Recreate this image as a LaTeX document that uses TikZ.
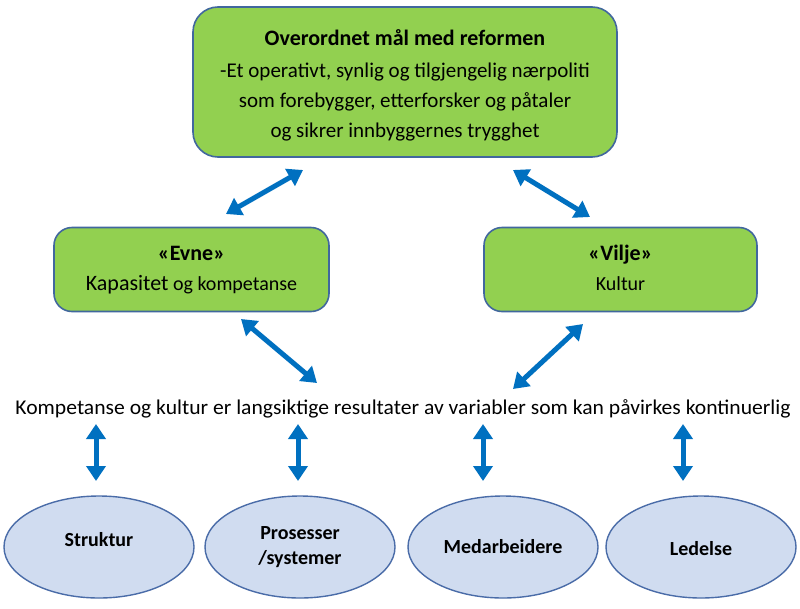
\documentclass[tikz,border=0pt]{standalone}
\usepackage{fontspec}
\setmainfont{Carlito}
\usetikzlibrary{arrows.meta,shapes.geometric}
\definecolor{boxgreen}{HTML}{92D050}
\definecolor{boxedge}{HTML}{41679E}
\definecolor{ellfill}{HTML}{D0DCF0}
\definecolor{elledge}{HTML}{4A6CA8}
\definecolor{arrowblue}{HTML}{0070C0}
\begin{document}
\begin{tikzpicture}[x=1pt,y=-1pt,
  greenbox/.style={draw=boxedge, line width=1.6pt, fill=boxgreen, align=center, inner sep=0pt},
  ellnode/.style={ellipse, draw=elledge, line width=1.4pt, fill=ellfill, minimum width=190pt, minimum height=102pt, align=center, inner sep=0pt, font=\fontsize{20}{25}\selectfont\bfseries},
  dblarrow/.style={draw=arrowblue, line width=5pt, {Triangle[width=19pt,length=15pt]}-{Triangle[width=19pt,length=15pt]}}
]
\useasboundingbox (0,0) rectangle (800,608);
\fill[white] (0,0) rectangle (800,608);

\node[greenbox, rounded corners=25pt, minimum width=424pt, minimum height=150pt] (goal) at (405,82) {};
\node[align=center, inner sep=0pt, font=\fontsize{21}{30}\selectfont] (goaltxt) at (405,85)
  {{\fontsize{22}{30}\selectfont\bfseries Overordnet mål med reformen}\strut\\[2pt]
   -Et operativt, synlig og tilgjengelig nærpoliti\strut\\
   som forebygger, etterforsker og påtaler\strut\\
   og sikrer innbyggernes trygghet\strut};

\node[greenbox, rounded corners=18pt, minimum width=275pt, minimum height=84pt,
  font=\fontsize{20}{30}\selectfont] (evne) at (191.5,269.5)
  {{\fontsize{22}{30}\selectfont\bfseries «Evne»}\strut\\
   {\fontsize{22}{30}\selectfont Kapasitet} og kompetanse\strut};

\node[greenbox, rounded corners=18pt, minimum width=273pt, minimum height=84pt,
  font=\fontsize{20}{30}\selectfont] (vilje) at (620.5,269.5)
  {{\fontsize{22}{30}\selectfont\bfseries «Vilje»}\strut\\
   Kultur\strut};

\node[inner sep=0pt] (mid) at (403,409)
  {\resizebox{775pt}{\height}{\fontsize{21}{25}\selectfont Kompetanse og kultur er langsiktige resultater av variabler som kan påvirkes kontinuerlig}};

\node[ellnode] (struktur) at (99,547) {\raisebox{7pt}[\height][\depth]{Struktur}};
\node[ellnode] (prosesser) at (300,547) {Prosesser\\/systemer};
\node[ellnode] (medarb) at (503,547) {Medarbeidere};
\node[ellnode] (ledelse) at (701,547) {\raisebox{-2pt}[\height][\depth]{Ledelse}};

\coordinate (a1s) at (226,214); \coordinate (a1e) at (303,170);
\coordinate (a2s) at (513,170); \coordinate (a2e) at (590,217);
\coordinate (a3s) at (241,319); \coordinate (a3e) at (317,383);
\coordinate (a4s) at (583,324); \coordinate (a4e) at (513,389);
\draw[dblarrow] (a1s) -- (a1e);
\draw[dblarrow] (a2s) -- (a2e);
\draw[dblarrow] (a3s) -- (a3e);
\draw[dblarrow] (a4s) -- (a4e);

\foreach \x/\n in {96/v1,298/v2,483/v3,683/v4}{
  \coordinate (\n s) at (\x,424);
  \coordinate (\n e) at (\x,481);
  \draw[dblarrow] (\n s) -- (\n e);
}
\end{tikzpicture}
\end{document}
